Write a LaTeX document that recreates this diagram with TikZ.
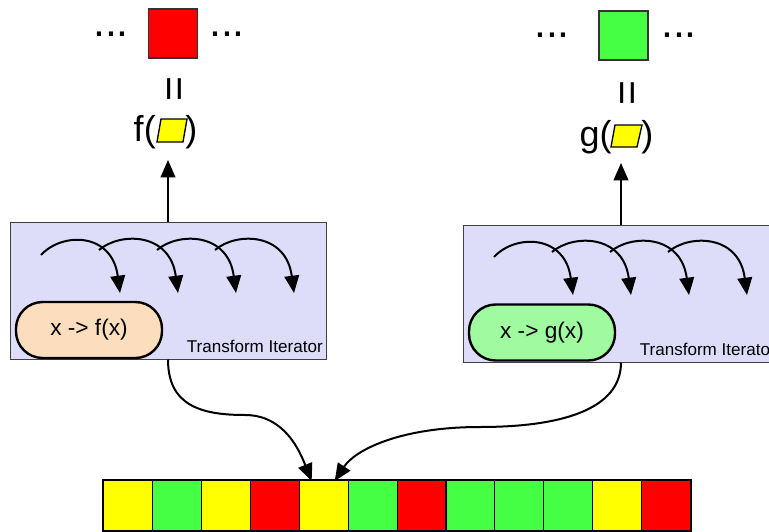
\documentclass[tikz,border=0pt]{standalone}
\usepackage{fontspec}
\setmainfont{Liberation Sans}
\usetikzlibrary{arrows.meta,calc}
\definecolor{lavender}{RGB}{221,221,250}
\definecolor{peach}{RGB}{252,221,190}
\definecolor{mint}{RGB}{160,250,160}
\definecolor{grn}{RGB}{68,255,68}
\definecolor{red}{RGB}{255,0,0}
\definecolor{yel}{RGB}{255,255,0}
\begin{document}
\begin{tikzpicture}[x=0.75pt,y=-0.75pt,
  iterbox/.style={draw=black!75, fill=lavender, line width=0.75pt,
    minimum width=237pt, minimum height=102.75pt, inner sep=0pt},
  fnpill/.style={draw=black, line width=1.8pt, rounded corners=20pt,
    minimum width=109.5pt, minimum height=42pt, inner sep=0pt,
    font=\fontsize{17}{19}\selectfont},
  caption/.style={font=\fontsize{12.8}{14}\selectfont, anchor=base east, inner sep=0pt},
  flow/.style={line width=1.5pt, -{Triangle[length=13pt,width=11pt]}},
  hop/.style={line width=1.5pt, -{Triangle[length=13pt,width=11pt]}},
  cell/.style={draw=black, line width=0.8pt, minimum width=36.69pt,
    minimum height=37.5pt, inner sep=0pt, anchor=north west},
  elem/.style={draw=black!80, line width=0.8pt, minimum size=36.75pt, inner sep=0pt},
  dots/.style={font=\fontsize{32}{34}\selectfont, anchor=base, inner sep=0pt},
  expr/.style={font=\fontsize{27}{30}\selectfont, inner sep=0pt},
  eqsign/.style={font=\fontsize{32}{34}\selectfont, rotate=90, inner sep=0pt},
  param/.style={draw=black, line width=1pt, fill=yel, line join=miter}]

\clip (0,0) rectangle (769,532);
\fill[white] (0,0) rectangle (769,532);

% ---------- the sequence at the bottom ----------
\foreach \c [count=\i from 0] in {yel,grn,yel,red,yel,grn,red,grn,grn,grn,yel,red}
  \node[cell, fill=\c] (c\i) at (103+48.92*\i,480) {};
\draw[line width=2pt] (c0.north west) rectangle (c11.south east);

% ---------- left iterator ----------
\node[iterbox] (lbox) at (168,290.5) {};
\foreach \i/\sy in {0/255,1/250,2/250,3/250}
  \draw[hop] (41+58*\i,\sy) .. controls (62+58*\i,232) and (112+58*\i,232) .. (120+58*\i,293);
\node[fnpill, fill=peach] (lfn) at (89,330) {x -> f(x)};
\node[caption] (lcap) at (323,352) {Transform Iterator};

% ---------- right iterator ----------
\node[iterbox] (rbox) at (621,293.5) {};
\foreach \i/\sy in {0/257,1/252,2/252,3/252}
  \draw[hop] (494+58*\i,\sy) .. controls (515+58*\i,234) and (565+58*\i,234) .. (573+58*\i,295);
\node[fnpill, fill=mint] (rfn) at (542,332.5) {x -> g(x)};
\node[caption] (rcap) at (776,355) {Transform Iterator};

% ---------- left result ----------
\node[elem, fill=red] (fval) at (173,33.5) {};
\node[dots] (fdl) at (111,36) {...};
\node[dots] (fdr) at (227,36) {...};
\node[eqsign] (feq) at (178,89.5) {=};
\node[expr, anchor=base east] (fopen) at (156,141) {f(};
\draw[param] (161,119) -- (187,119) -- (183,142) -- (157,142) -- cycle;
\node[expr, anchor=base west] (fclose) at (185,141) {)};
\coordinate (ftip) at (168,160);
\draw[flow] (lbox.north) -- (ftip);

% ---------- right result ----------
\node[elem, fill=grn] (gval) at (623.5,35.5) {};
\node[dots] (gdl) at (552,37) {...};
\node[dots] (gdr) at (679,37) {...};
\node[eqsign] (geq) at (631.5,93) {=};
\node[expr, anchor=base east] (gopen) at (612,146) {g(};
\draw[param] (615,125) -- (642,125) -- (637,147) -- (611,147) -- cycle;
\node[expr, anchor=base west] (gclose) at (641,146) {)};
\coordinate (gtip) at (621,163);
\draw[flow] (rbox.north) -- (gtip);

% ---------- both iterators read the same element ----------
\draw[flow] (lbox.south) .. controls (168,405) and (200,415) .. (245,415)
  .. controls (285,415) and (300,452) .. ($(c4.north)+(-12,1)$);
\draw[flow] (rbox.south) .. controls (621,410) and (560,427) .. (480,427)
  .. controls (400,427) and (355,450) .. ($(c4.north)+(11,1)$);
\end{tikzpicture}
\end{document}
